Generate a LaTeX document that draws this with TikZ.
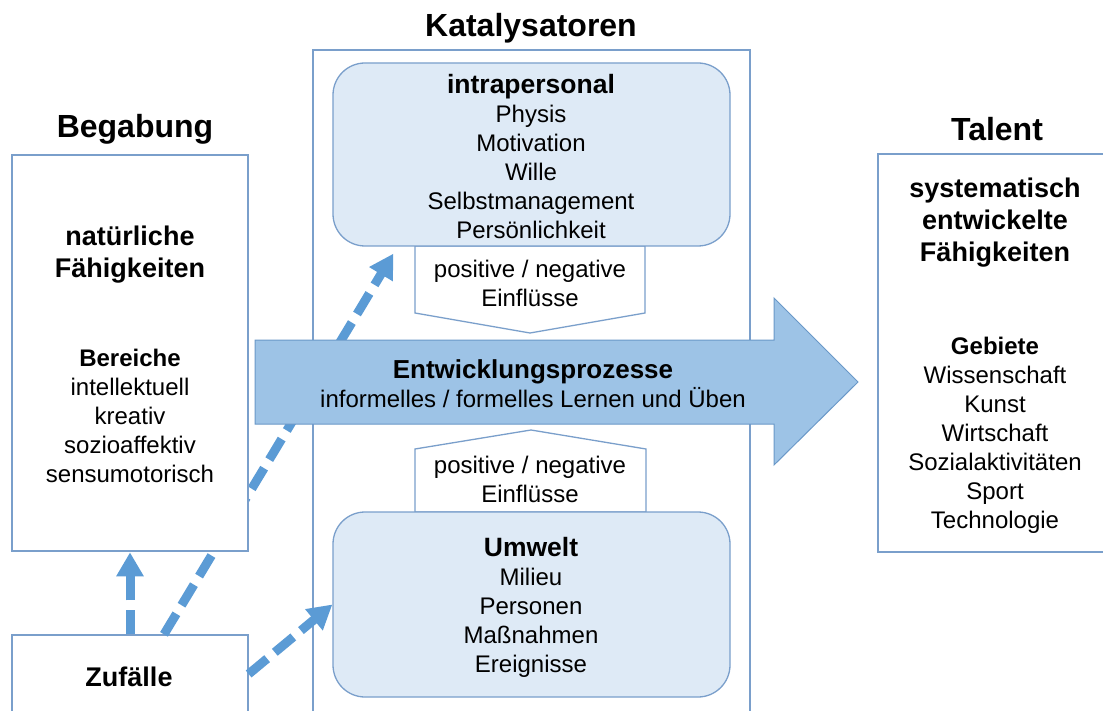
\documentclass[tikz,border=0pt]{standalone}
\usepackage{fontspec}
\setmainfont{Liberation Sans}
\usetikzlibrary{arrows.meta,calc}
\definecolor{frame}{HTML}{7A9FCB}
\definecolor{softfill}{HTML}{DEEAF6}
\definecolor{arrowfill}{HTML}{9DC3E6}
\definecolor{arrowline}{HTML}{6A98C8}
\definecolor{dashblue}{HTML}{5B9BD5}

\begin{document}
\begin{tikzpicture}[x=1pt,y=-1pt,
  panel/.style={draw=frame,line width=1.3pt,fill=white,inner sep=0pt},
  softbox/.style={draw=frame,line width=1.3pt,fill=softfill,rounded corners=32pt,inner sep=0pt},
  txt/.style={align=center,inner sep=0pt,font=\fontsize{24}{29}\selectfont},
  headline/.style={align=center,inner sep=0pt,font=\fontsize{27}{32}\selectfont\bfseries},
  title/.style={inner sep=0pt,font=\fontsize{32}{38}\selectfont\bfseries},
  chance/.style={draw=dashblue,line width=9pt,dash pattern=on 24pt off 10pt,
    -{Triangle[length=24pt,width=26pt]}}
]
\useasboundingbox (0,0) rectangle (1103,711);
\clip (0,0) rectangle (1103,711);
\fill[white] (0,0) rectangle (1103,711);

% catalyst frame
\node[panel, fill=none, minimum width=437, minimum height=670] (kat) at (531.5,385) {};

% influence pentagons behind the rounded boxes
\draw[frame, line width=1.3pt, fill=white]
  (415,246) -- (415,313) -- (530,333) -- (645,313) -- (645,246) -- cycle;
\draw[frame, line width=1.3pt, fill=white]
  (415,512) -- (415,449) -- (531,430) -- (646,449) -- (646,512) -- cycle;

% intrapersonal and environmental catalysts
\node[softbox, minimum width=397, minimum height=183] (intra) at (531.5,154.5) {};
\node[softbox, minimum width=397, minimum height=185] (umw) at (531.5,604.5) {};

% gift and chance boxes
\node[panel, minimum width=236, minimum height=84] (zuf) at (130,677) {};
\coordinate (zufTop) at ($(zuf.north)+(34,0)$);
\coordinate (intraIn) at ($(intra.south west)+(61,7)$);
\draw[chance] (zufTop) -- (intraIn);
\draw[chance] (zuf.north) -- ++(0,-82);
\draw[chance] ($(zuf.east)+(0,-3)$) -- (umw.west);
\node[panel, minimum width=236, minimum height=396] (beg) at (130,353) {};
\node[panel, minimum width=240, minimum height=398] (tal) at (998,353) {};

% development arrow
\draw[arrowline, line width=1pt, fill=arrowfill]
  (255,340) -- (774,340) -- (774,298) -- (858,382) -- (774,465)
  -- (774,424) -- (255,424) -- cycle;

% titles
\node[title] (katT) at (531,28) {Katalysatoren};
\node[title] (begT) at (135,129) {Begabung};
\node[title] (talT) at (997,129) {Talent};

% texts
\node[headline] (begH) at (130,255) {natürliche\\Fähigkeiten};
\node[txt] (begL) at (130,416) {\textbf{Bereiche}\\intellektuell\\kreativ\\sozioaffektiv\\sensumotorisch};
\node[headline] (talH) at (995,223) {systematisch\\entwickelte\\Fähigkeiten};
\node[txt] (talL) at (995,435) {\textbf{Gebiete}\\Wissenschaft\\Kunst\\Wirtschaft\\Sozialaktivitäten\\Sport\\Technologie};
\node[txt] (intraT) at (531,157) {{\fontsize{26.5}{29}\selectfont\bfseries intrapersonal}\\Physis\\Motivation\\Wille\\Selbstmanagement\\Persönlichkeit};
\node[txt] (umwT) at (531,607) {{\fontsize{26.5}{29}\selectfont\bfseries Umwelt}\\Milieu\\Personen\\Maßnahmen\\Ereignisse};
\node[txt] (infUp) at (530,283) {positive / negative\\Einflüsse};
\node[txt] (infDown) at (530,479) {positive / negative\\Einflüsse};
\node[txt] (devT) at (533,384) {{\fontsize{26}{29}\selectfont\bfseries Entwicklungsprozesse}\\informelles / formelles Lernen und Üben};
\node[headline] (zufT) at (129,677) {Zufälle};
\end{tikzpicture}
\end{document}
